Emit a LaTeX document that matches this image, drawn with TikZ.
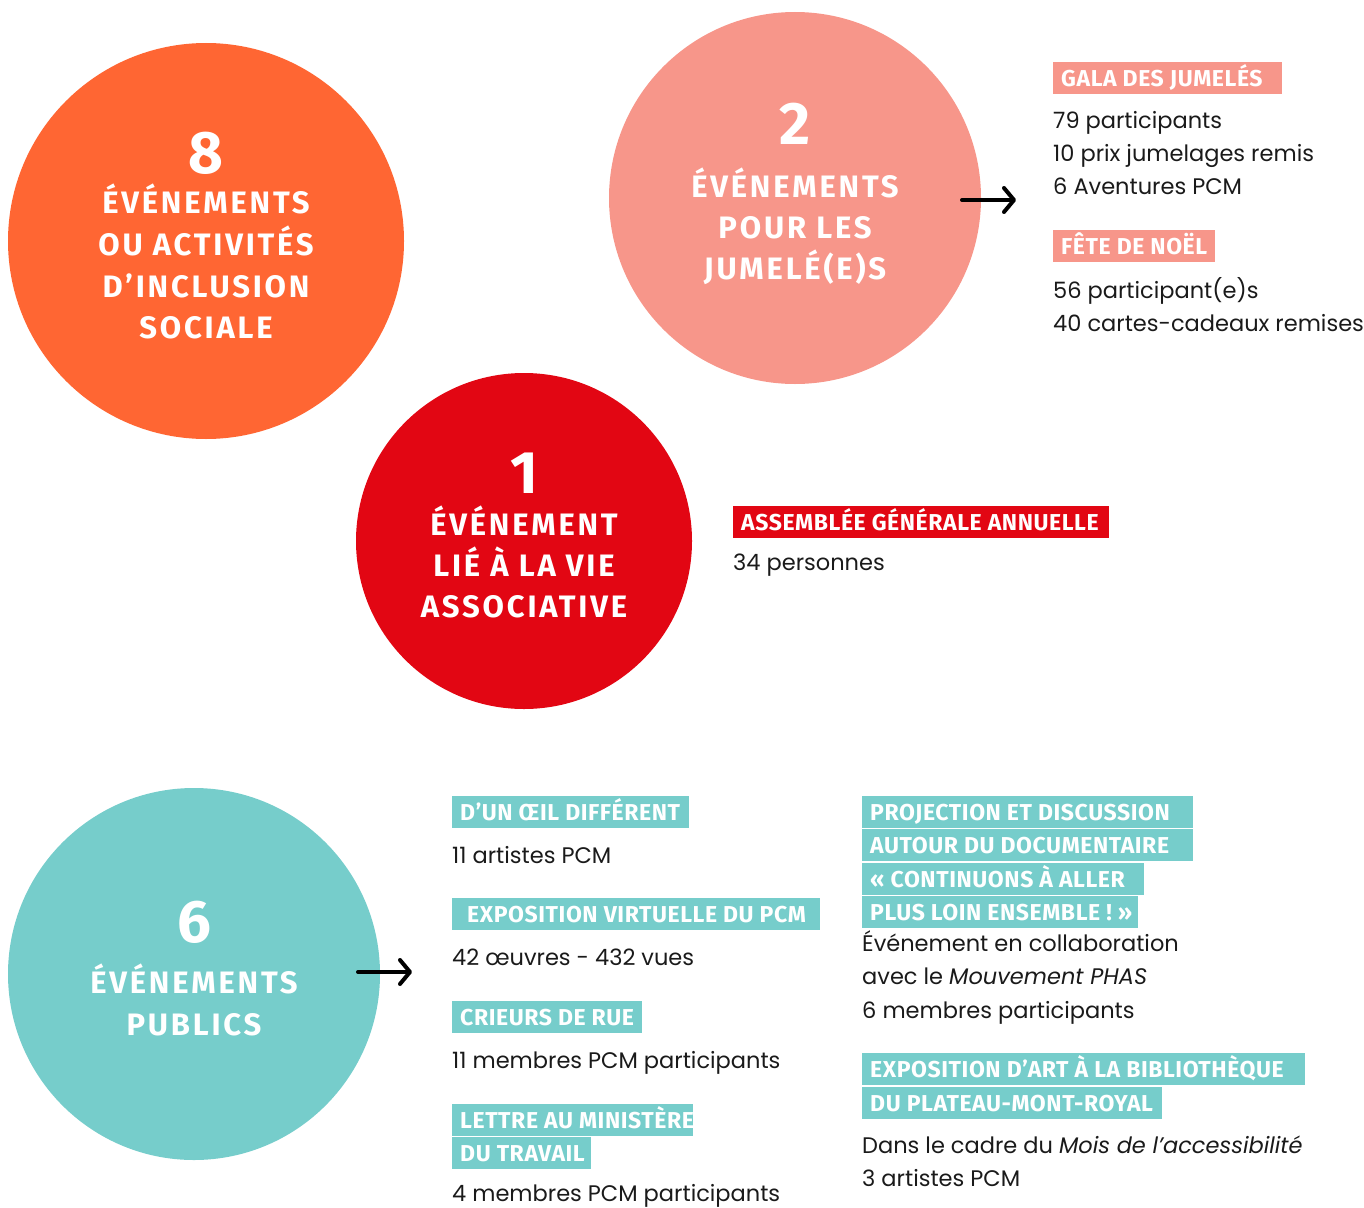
\documentclass[tikz,border=0pt]{standalone}
\usepackage{fontspec}
\setmainfont{Poppins}
\newfontfamily\headfont[LetterSpace=9]{Fira Sans}
\newfontfamily\labfont[LetterSpace=2.5]{Fira Sans}
\usetikzlibrary{arrows.meta}
\definecolor{corange}{HTML}{FF6633}
\definecolor{csalmon}{HTML}{F7968A}
\definecolor{cred}{HTML}{E20613}
\definecolor{cteal}{HTML}{76CDCB}
\definecolor{ctext}{HTML}{1A1A1A}
\newcommand\lbltext[2]{\makebox[#1][l]{\hspace*{8pt}#2}}
\begin{document}
\begin{tikzpicture}[x=1pt,y=-1pt,
  bigcirc/.style={circle, inner sep=0pt, minimum size=#1},
  digit/.style={anchor=base, inner sep=0pt, text=white, font=\headfont\bfseries\fontsize{60}{60}\selectfont},
  head/.style={anchor=base, inner sep=0pt, text=white, font=\headfont\bfseries\fontsize{31}{36}\selectfont},
  lab/.style={fill=#1, text=white, anchor=north west, inner xsep=0pt, inner ysep=8pt,
     text height=16pt, text depth=0pt,
     font=\labfont\bfseries\fontsize{23}{23}\selectfont},
  body/.style={anchor=base west, inner sep=0pt, text=ctext, font=\fontsize{22.5}{26}\selectfont},
  arr/.style={line width=4pt, line cap=round, -{Straight Barb[length=10pt,width=24pt,round]}}
]
\useasboundingbox (0,0) rectangle (1364,1207);

% circles
\node[bigcirc=396pt, fill=corange] (c8) at (206,241) {};
\node[bigcirc=372pt, fill=csalmon] (c2) at (795,198) {};
\node[bigcirc=336pt, fill=cred] (c1) at (524,541) {};
\node[bigcirc=372pt, fill=cteal] (c6) at (194,974) {};

% orange circle text
\node[digit] (t8) at (206,173) {8};
\node[head] (t8a) at (206,213) {ÉVÉNEMENTS};
\node[head] (t8b) at (206,255) {OU ACTIVITÉS};
\node[head] (t8c) at (206,297) {D’INCLUSION};
\node[head] (t8d) at (206,338) {SOCIALE};

% salmon circle text
\node[digit] (t2) at (795,144) {2};
\node[head] (t2a) at (795,197) {ÉVÉNEMENTS};
\node[head] (t2b) at (795,238) {POUR LES};
\node[head] (t2c) at (795,279) {JUMELÉ(E)S};

% red circle text
\node[digit] (t1) at (524,493) {1};
\node[head] (t1a) at (524,535) {ÉVÉNEMENT};
\node[head] (t1b) at (524,576) {LIÉ À LA VIE};
\node[head] (t1c) at (524,617) {ASSOCIATIVE};

% teal circle text
\node[digit] (t6) at (194,942) {6};
\node[head] (t6a) at (194,993) {ÉVÉNEMENTS};
\node[head] (t6b) at (194,1035) {PUBLICS};

% arrows
\coordinate (a2s) at (962,200);
\coordinate (a2e) at (1016,200);
\draw[arr] (a2s) -- (a2e);
\coordinate (a6s) at (358,972);
\coordinate (a6e) at (412,972);
\draw[arr] (a6s) -- (a6e);

% salmon details
\node[lab=csalmon] (l1) at (1053,62) {\lbltext{229pt}{GALA DES JUMELÉS}};
\node[body] (b1) at (1053,128) {79 participants};
\node[body] (b2) at (1053,161) {10 prix jumelages remis};
\node[body] (b3) at (1053,194) {6 Aventures PCM};
\node[lab=csalmon] (l2) at (1053,230) {\lbltext{162pt}{FÊTE DE NOËL}};
\node[body] (b4) at (1053,298) {56 participant(e)s};
\node[body] (b5) at (1053,331) {40 cartes-cadeaux remises};

% red details
\node[lab=cred] (l3) at (733,506) {\lbltext{376pt}{ASSEMBLÉE GÉNÉRALE ANNUELLE}};
\node[body] (b6) at (733,570) {34 personnes};

% teal details, left column
\node[lab=cteal] (l4) at (452,796) {\lbltext{237pt}{D’UN ŒIL DIFFÉRENT}};
\node[body] (b7) at (452,863) {11 artistes PCM};
\node[lab=cteal] (l5) at (452,898) {\lbltext{368pt}{\hspace*{7pt}EXPOSITION VIRTUELLE DU PCM}};
\node[body] (b8) at (452,965) {42 œuvres - 432 vues};
\node[lab=cteal] (l6) at (452,1001) {\lbltext{190pt}{CRIEURS DE RUE}};
\node[body] (b9) at (452,1068) {11 membres PCM participants};
\node[lab=cteal] (l7) at (452,1104) {\lbltext{241pt}{LETTRE AU MINISTÈRE}};
\node[lab=cteal] (l8) at (452,1137) {\lbltext{139pt}{DU TRAVAIL}};
\node[body] (b10) at (452,1201) {4 membres PCM participants};

% teal details, right column
\node[lab=cteal] (l9) at (862,796) {\lbltext{331pt}{PROJECTION ET DISCUSSION}};
\node[lab=cteal] (l10) at (862,829) {\lbltext{331pt}{AUTOUR DU DOCUMENTAIRE}};
\node[lab=cteal] (l11) at (862,863) {\lbltext{282pt}{« CONTINUONS À ALLER}};
\node[lab=cteal] (l12) at (862,896) {\lbltext{276pt}{PLUS LOIN ENSEMBLE ! »}};
\node[body] (b11) at (862,951) {Événement en collaboration};
\node[body] (b12) at (862,984) {avec le \textit{Mouvement PHAS}};
\node[body] (b13) at (862,1018) {6 membres participants};
\node[lab=cteal] (l13) at (862,1053) {\lbltext{443pt}{EXPOSITION D’ART À LA BIBLIOTHÈQUE}};
\node[lab=cteal] (l14) at (862,1087) {\lbltext{300pt}{DU PLATEAU-MONT-ROYAL}};
\node[body] (b14) at (862,1153) {Dans le cadre du \textit{Mois de l’accessibilité}};
\node[body] (b15) at (862,1186) {3 artistes PCM};
\end{tikzpicture}
\end{document}
